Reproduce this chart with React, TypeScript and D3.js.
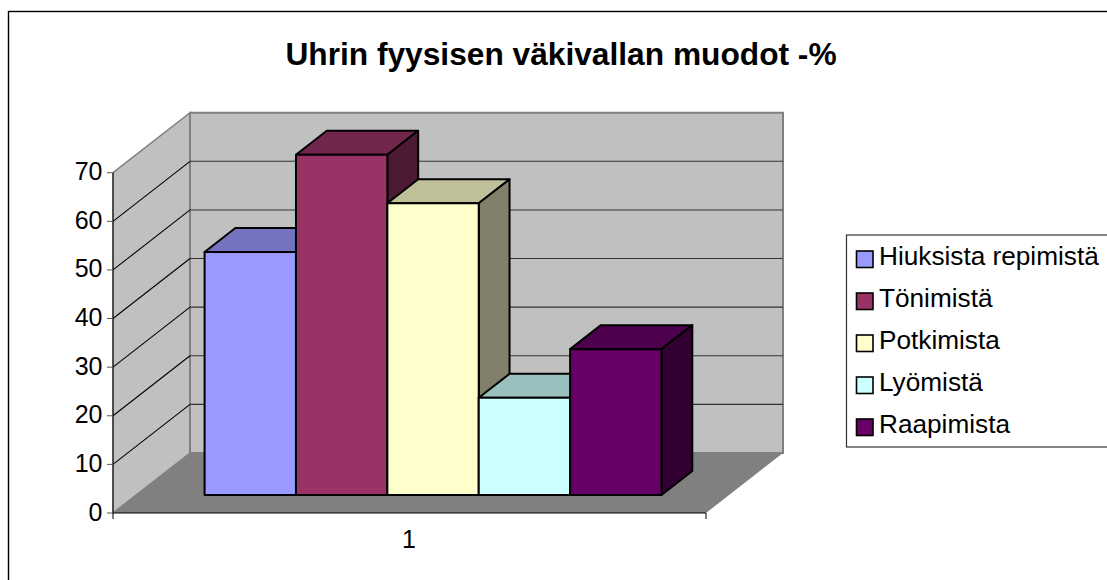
import React from "react";
import * as d3 from "d3";

const title = "Uhrin fyysisen väkivallan muodot -%";
const categories = ["1"];
const seriesNames = ["Hiuksista repimistä", "Tönimistä", "Potkimista", "Lyömistä", "Raapimista"];
const seriesValues = [50, 70, 60, 20, 30];
const seriesColors = ["#9999ff", "#993366", "#ffffcc", "#ccffff", "#660066"];
const topColors = ["#7373bf", "#73264d", "#bfbf99", "#99bfbf", "#4d004d"];
const sideColors = ["#4d4d80", "#4d1a33", "#80806b", "#668080", "#330033"];
const yTicks = [0, 10, 20, 30, 40, 50, 60, 70];

const W = 1107, H = 580;
const y = d3.scaleLinear().domain([0, 70]).range([513, 172.7]);
const x = d3.scaleLinear().domain([0, 1]).range([113, 706]);
const depthX = 77, depthY = -60;
const band = d3.scaleBand<string>().domain(seriesNames).range([x(0.1155), x(0.886)]);
const P = (px: number, v: number, t: number): [number, number] => [px + t * depthX, y(v) + t * depthY];
const poly = (pts: [number, number][]) => d3.line()(pts)! + "Z";
const F = "'Liberation Sans', Arial, sans-serif";
const T0 = 0.3, T1 = 0.7;

export default function App() {
  const x0 = x(0), x1 = x(1), vMax = 70;
  const back = (v: number) => y(v) + depthY;
  return (
    <svg width={W} height={H} style={{ position: "fixed", left: 0, top: 0, background: "#fff" }} fontFamily={F}>
      <rect x={8.5} y={11.5} width={W + 20} height={H + 20} fill="#fff" stroke="#000" strokeWidth={1.4} />
      <text x={561} y={65} textAnchor="middle" fontSize={31.7} fontWeight="bold">{title}</text>

      {/* walls */}
      <path d={poly([P(x0, 0, 0), P(x0, vMax, 0), P(x0, vMax, 1), P(x0, 0, 1)])} fill="#c0c0c0" stroke="#808080" strokeWidth={1.5} />
      <path d={poly([P(x0, 0, 1), P(x0, vMax, 1), P(x1, vMax, 1), P(x1, 0, 1)])} fill="#c0c0c0" stroke="#808080" strokeWidth={2} />
      <path d={poly([P(x0, 0, 0), P(x1, 0, 0), P(x1, 0, 1), P(x0, 0, 1)])} fill="#808080" />
      {yTicks.slice(1, -1).map((v) => (
        <g key={v} stroke="#333" strokeWidth={1.1} fill="none">
          <line x1={x0} y1={y(v)} x2={x0 + depthX} y2={back(v)} stroke="#000" />
          <line x1={x0 + depthX} y1={back(v)} x2={x1 + depthX} y2={back(v)} />
        </g>
      ))}

      {/* axes */}
      <line x1={x0} y1={y(0)} x2={x0} y2={y(70)} stroke="#000" strokeWidth={1} />
      <line x1={x0} y1={y(0)} x2={x1} y2={y(0)} stroke="#000" strokeWidth={1.2} />
      <line x1={x0} y1={y(0)} x2={x0} y2={y(0) + 6} stroke="#000" />
      <line x1={x1} y1={y(0)} x2={x1} y2={y(0) + 6} stroke="#000" />
      {yTicks.map((v) => (
        <g key={v}>
          <line x1={x0 - 6} y1={y(v)} x2={x0} y2={y(v)} stroke="#555" />
          <text x={x0 - 10.5} y={y(v) + 7.5} textAnchor="end" fontSize={25}>{v}</text>
        </g>
      ))}
      {categories.map((c) => (
        <text key={c} x={409} y={548} textAnchor="middle" fontSize={25}>{c}</text>
      ))}

      {/* bars */}
      {seriesNames.map((s, i) => {
        const l = band(s)!, r = l + band.bandwidth(), v = seriesValues[i];
        const st = { stroke: "#000", strokeWidth: 2, strokeLinejoin: "round" as const };
        return (
          <g key={s}>
            <path d={poly([P(l, v, T0), P(r, v, T0), P(r, v, T1), P(l, v, T1)])} fill={topColors[i]} {...st} />
            <path d={poly([P(r, 0, T0), P(r, v, T0), P(r, v, T1), P(r, 0, T1)])} fill={sideColors[i]} {...st} />
            <path d={poly([P(l, 0, T0), P(r, 0, T0), P(r, v, T0), P(l, v, T0)])} fill={seriesColors[i]} {...st} />
          </g>
        );
      })}

      {/* legend */}
      <rect x={846.5} y={235} width={W} height={212} fill="#fff" stroke="#333" strokeWidth={1.2} />
      {seriesNames.map((s, i) => {
        const yy = 259 + i * 42;
        return (
          <g key={s}>
            <rect x={856.5} y={yy - 8} width={16.5} height={16.5} fill={seriesColors[i]} stroke="#000" strokeWidth={1.6} />
            <text x={879} y={yy + 6} fontSize={26.2}>{s}</text>
          </g>
        );
      })}
    </svg>
  );
}
